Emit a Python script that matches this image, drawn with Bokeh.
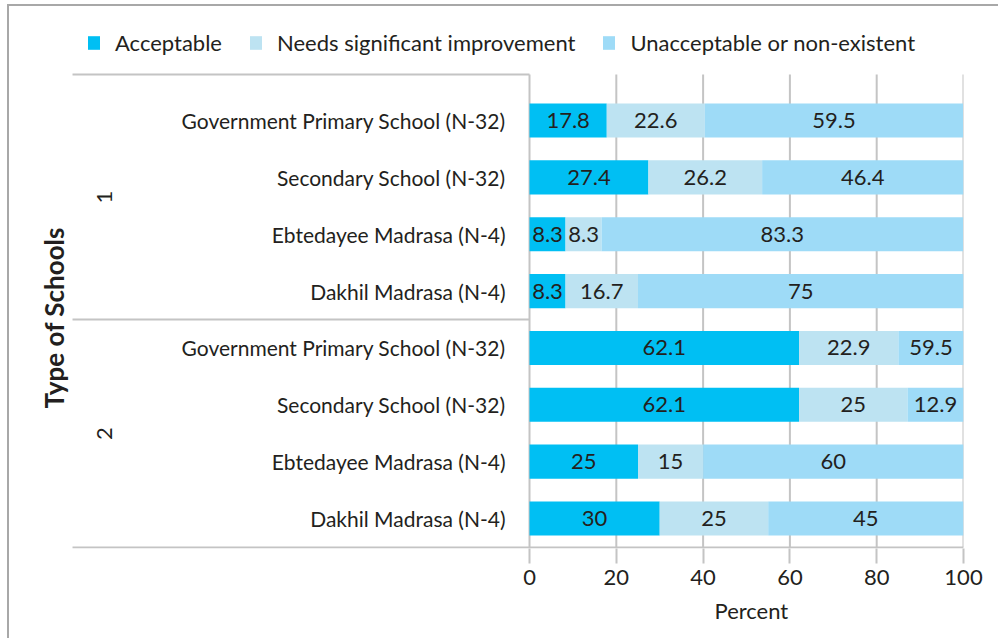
import numpy as np
from bokeh.plotting import figure
from bokeh.models import ColumnDataSource, Range1d, FixedTicker, Legend, LegendItem, Title
from bokeh.core.properties import value
from bokeh.embed import file_html
from bokeh.resources import INLINE

# ---------------- data ----------------
groups = ["1", "2"]
schools = ["Government Primary School (N-32)", "Secondary School (N-32)",
           "Ebtedayee Madrasa (N-4)", "Dakhil Madrasa (N-4)"]
series = ["Acceptable", "Needs significant improvement", "Unacceptable or non-existent"]
acceptable = [17.8, 27.4, 8.3, 8.3, 62.1, 62.1, 25, 30]
needs = [22.6, 26.2, 8.3, 16.7, 22.9, 25, 15, 25]
unacceptable = [59.5, 46.4, 83.3, 75, 59.5, 12.9, 60, 45]
x_ticks = [0, 20, 40, 60, 80, 100]

colors = ["#00BFF3", "#BDE3F2", "#9EDBF7"]
FONT = "Lato"
TXT = "#231F20"
GRID = "#C4C4C4"

# ---------------- layout numbers ----------------
X_START = -113.6      # left edge of the frame
X_SEP = -105.3        # where the group separators start
Y_FRAME_TOP = -1.76
Y_TOP = -0.81         # top separator
Y_BOTTOM = 7.51       # bottom line
Y_FRAME_BOTTOM = 7.528

labels_all = [s for g in groups for s in schools]
n = len(labels_all)
ypos = np.arange(n)

vals = np.array([acceptable, needs, unacceptable])
lefts = np.vstack([np.zeros(n), np.cumsum(vals, axis=0)[:-1]])
rights = np.cumsum(vals, axis=0)

p = figure(width=991, height=634, output_backend="svg", toolbar_location=None,
           x_range=Range1d(X_START, 100), y_range=Range1d(Y_FRAME_BOTTOM, Y_FRAME_TOP),
           min_border_left=27, min_border_right=37, min_border_top=14,
           min_border_bottom=92)
p.styles = {"margin-left": "7px", "margin-top": "4px",
            "border-left": "2px solid #A8A8A8", "border-top": "2px solid #A8A8A8"}
p.outline_line_color = None
p.background_fill_color = "white"
p.border_fill_color = "white"
p.grid.visible = False
p.yaxis.visible = False

# x axis (ticks and labels only; the line is drawn as a separator below)
xa = p.xaxis[0]
xa.ticker = FixedTicker(ticks=x_ticks)
xa.axis_line_color = None
xa.major_tick_line_color = GRID
xa.major_tick_line_width = 2
xa.major_tick_out = 15
xa.major_tick_in = 0
xa.minor_tick_line_color = None
xa.major_label_text_font = FONT
xa.major_label_text_font_size = "22px"
xa.major_label_text_color = TXT
xa.major_label_standoff = 6

# x-axis title, centred under the bars
p.add_layout(Title(text="Percent", align="left", offset=678, standoff=14,
                   text_font=FONT, text_font_size="22px", text_font_style="normal",
                   text_color=TXT), "below")

# vertical grid lines (only over the plotting area)
p.segment(x0=x_ticks, x1=x_ticks, y0=[Y_TOP] * len(x_ticks), y1=[Y_BOTTOM] * len(x_ticks),
          line_color=GRID, line_width=2)

# bars
renderers = []
for k in range(3):
    src = ColumnDataSource(dict(y=ypos, left=lefts[k], right=rights[k]))
    r = p.hbar(y="y", left="left", right="right", height=0.6, source=src,
               fill_color=colors[k], line_color=None)
    renderers.append(r)

# value labels centred in the visible part of each segment
for k in range(3):
    vl = np.minimum(lefts[k], 100)
    vr = np.minimum(rights[k], 100)
    src = ColumnDataSource(dict(x=(vl + vr) / 2, y=ypos,
                                t=[("%g" % v) for v in vals[k]]))
    p.text(x="x", y="y", text="t", source=src, text_align="center",
           text_baseline="middle", text_font=value(FONT), text_font_size="22px",
           text_color=TXT)

# category labels
src = ColumnDataSource(dict(x=np.zeros(n), y=ypos, t=labels_all))
p.text(x="x", y="y", text="t", source=src, x_offset=-24, text_align="right",
       text_baseline="middle", text_font=value(FONT), text_font_size="21px",
       text_color=TXT)

# group separators, bottom line and group labels
sep_mid = (len(schools) - 0.5)
p.segment(x0=[X_SEP, X_SEP, X_SEP], x1=[0, 0, 100], y0=[Y_TOP, sep_mid, Y_BOTTOM],
          y1=[Y_TOP, sep_mid, Y_BOTTOM], line_color=GRID, line_width=2)
g_centers = [(Y_TOP + sep_mid) / 2, (sep_mid + Y_BOTTOM) / 2]
p.text(x=[X_SEP] * 2, y=g_centers, text=groups, x_offset=32, angle=np.pi / 2,
       text_align="center", text_baseline="middle", text_font=value(FONT),
       text_font_size="22px", text_color=TXT)

# y-axis title
p.text(x=[X_SEP], y=[(Y_TOP + Y_BOTTOM) / 2 + 0.12], text=["Type of Schools"], x_offset=-19,
       angle=np.pi / 2, text_align="center", text_baseline="middle",
       text_font=value(FONT), text_font_size="26px", text_font_style="bold",
       text_color=TXT)

# legend
legend = Legend(items=[LegendItem(label=series[k], renderers=[renderers[k]]) for k in range(3)],
                orientation="horizontal", location=(50, 492),
                label_text_font=FONT, label_text_font_size="22px",
                label_text_color=TXT, glyph_width=15, glyph_height=17,
                label_standoff=14, spacing=26, padding=0, margin=0,
                border_line_color=None, background_fill_alpha=0)
p.add_layout(legend)

open("out.html", "w").write(file_html(p, INLINE))
